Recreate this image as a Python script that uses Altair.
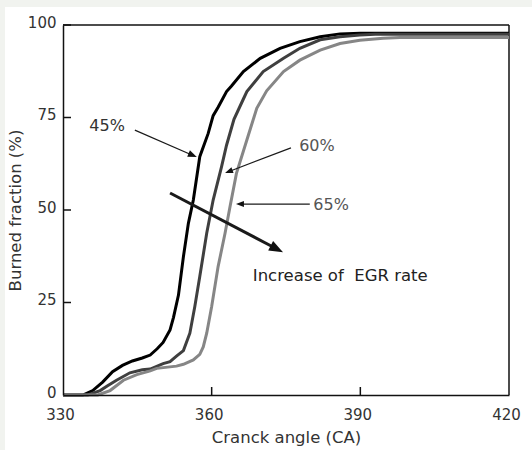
import math
import altair as alt
import pandas as pd

# ---- curves (crank angle, burned fraction %) ----
x45 = [330, 334, 336, 338, 340, 342, 344, 346, 347.6, 349, 350.2, 351.6, 352.3, 353.3, 354.3,
       355.3, 356.3, 357.6, 359.3, 360.3, 361.3, 363, 364, 366.4, 369.8, 373.8, 377.8, 381.9,
       385.9, 390, 420]
y45 = [0, 0, 1.2, 3.5, 6.3, 8, 9.2, 10, 10.8, 12.5, 14.2, 17.6, 21, 27, 37.4,
       46.4, 52.7, 64.4, 70.7, 75.5, 77.8, 82, 83.5, 87.4, 91, 93.7, 95.5, 96.8,
       97.6, 97.8, 97.8]

x60 = [330, 335, 337.5, 339, 340.8, 343.5, 346, 347.6, 350.2, 351.6, 352.9, 354.3, 355.6,
       356.6, 357.6, 359, 360.3, 362, 363, 364.5, 366.4, 367.1, 370.4, 374.5, 377.8, 381.9,
       385.9, 389.9, 393, 420]
y60 = [0, 0, 1.2, 2.5, 4, 6, 6.8, 7, 8.5, 9, 10.5, 12, 16.7,
       23.9, 32, 43.7, 52.7, 61.7, 67.5, 74.5, 80, 82, 87.4, 91, 93.7, 96,
       96.8, 97.3, 97.5, 97.5]

x65 = [330, 337, 339.5, 342.2, 344.9, 347.6, 348.9, 352.9, 354.3, 356.3, 357.6, 358.3, 359,
       360, 361.3, 362.7, 363.7, 365, 367.1, 369.1, 371.1, 374.5, 377.8, 381.9, 385.9, 389.9,
       394.6, 398, 420]
y65 = [0, 0, 1.2, 4, 5.5, 6.5, 7.2, 7.8, 8.3, 9.5, 11, 13, 16.7,
       23.9, 34.7, 43.7, 50.9, 59.9, 68.9, 77.5, 82.2, 87.4, 90.5, 93.2, 95.0, 95.9,
       96.4, 96.6, 96.6]

series_names = ["45%", "60%", "65%"]
series_colors = ["#000000", "#3f3f3f", "#868686"]

# ---- axis ticks ----
x_ticks = [330, 360, 390, 420]
y_ticks = [0, 25, 50, 75, 100]

# ---- annotations ----
arrow_x0 = [344.5, 376.0, 379.8, 351.6]
arrow_y0 = [71.6, 66.8, 51.6, 54.6]
arrow_x1 = [357.0, 362.7, 364.9, 374.4]
arrow_y1 = [64.3, 60.0, 51.6, 38.6]
arrow_head_len = [9, 8, 8, 14]
arrow_width = [1.2, 1.2, 1.2, 3.0]

label_text = ["45%", "60%", "65%"]
label_x = [338.9, 381.25, 384.1]
label_y = [72.7, 67.3, 51.4]
label_colors = ["#333333", "#555555", "#555555"]

egr_text = "Increase of \u00a0EGR rate"
egr_x = 368.3
egr_y = 32.2

W, H = 446, 370
XD = [330, 420]
YD = [0, 100]
kx = W / (XD[1] - XD[0])
ky = H / (YD[1] - YD[0])

rows = []
for name, xs, ys in zip(series_names, [x45, x60, x65], [y45, y60, y65]):
    for i, (a, b) in enumerate(zip(xs, ys)):
        rows.append({"series": name, "x": a, "y": b, "o": i})
curves = pd.DataFrame(rows)

arr_rows, head_rows = [], []
for i in range(len(arrow_x0)):
    dxp = (arrow_x1[i] - arrow_x0[i]) * kx
    dyp = -(arrow_y1[i] - arrow_y0[i]) * ky
    L = math.hypot(dxp, dyp)
    ux, uy = dxp / L, dyp / L
    hl = arrow_head_len[i]
    ex = arrow_x1[i] - (ux * hl * 0.8) / kx
    ey = arrow_y1[i] + (uy * hl * 0.8) / ky
    arr_rows.append({"id": i, "x": arrow_x0[i], "y": arrow_y0[i], "o": 0, "w": arrow_width[i]})
    arr_rows.append({"id": i, "x": ex, "y": ey, "o": 1, "w": arrow_width[i]})
    ang = math.degrees(math.atan2(dxp, -dyp)) % 360
    head_rows.append({"id": i, "x": arrow_x1[i], "y": arrow_y1[i], "angle": ang,
                      "size": 4 * hl * hl})
arrows = pd.DataFrame(arr_rows)
heads = pd.DataFrame(head_rows)

labels = pd.DataFrame({"t": label_text, "x": label_x, "y": label_y, "c": label_colors})
egr = pd.DataFrame({"t": [egr_text], "x": [egr_x], "y": [egr_y]})

xs = alt.Scale(domain=XD, nice=False, zero=False)
ys = alt.Scale(domain=YD, nice=False, zero=False)

FONT = "DejaVu Sans"

x_axis = alt.Axis(title="Cranck angle (CA)", values=x_ticks, ticks=False, grid=False,
                  labelFlush=False, labelPadding=12, labelOffset=-3, labelFontSize=15,
                  titleFontSize=16.5, titlePadding=7, titleFontWeight="normal",
                  labelColor="#333333", titleColor="#333333", labelFont=FONT, titleFont=FONT,
                  domainColor="#111111", domainWidth=1.5, zindex=2)
y_axis = alt.Axis(title="Burned fraction (%)", values=y_ticks, ticks=False, grid=False,
                  labelFlush=False, labelPadding=7, labelOffset=-3, labelFontSize=15,
                  titleFontSize=16.5, titlePadding=4, titleFontWeight="normal",
                  labelColor="#333333", titleColor="#333333", labelFont=FONT, titleFont=FONT,
                  domainColor="#111111", domainWidth=1.5, zindex=2)

bg = alt.Chart(pd.DataFrame({"a": [0]})).mark_rect(color="white", clip=False).encode(
    x=alt.value(-58), x2=alt.value(W + 23), y=alt.value(-18), y2=alt.value(H + 55)
)

frame_top = alt.Chart(pd.DataFrame({"a": [0]})).mark_rule(color="#111111", strokeWidth=1.5).encode(
    x=alt.value(0), x2=alt.value(W), y=alt.value(0)
)
frame_right = alt.Chart(pd.DataFrame({"a": [0]})).mark_rule(color="#111111", strokeWidth=1.5).encode(
    x=alt.value(W), y=alt.value(0), y2=alt.value(H)
)

lines = alt.Chart(curves).mark_line(strokeWidth=3, strokeJoin="miter").encode(
    x=alt.X("x:Q", scale=xs, axis=x_axis),
    y=alt.Y("y:Q", scale=ys, axis=y_axis),
    color=alt.Color("series:N", scale=alt.Scale(domain=series_names, range=series_colors), legend=None),
    order="o:Q",
    detail="series:N",
)

arrow_lines = alt.Chart(arrows).mark_line(color="#1a1a1a").encode(
    x=alt.X("x:Q", scale=xs), y=alt.Y("y:Q", scale=ys),
    detail="id:N", order="o:Q",
    strokeWidth=alt.StrokeWidth("w:Q", scale=None),
)

arrow_heads = alt.Chart(heads).mark_point(
    shape="M0,0L0.38,1L-0.38,1Z", filled=True, opacity=1, color="#111111", strokeWidth=0
).encode(
    x=alt.X("x:Q", scale=xs), y=alt.Y("y:Q", scale=ys),
    angle=alt.Angle("angle:Q", scale=None),
    size=alt.Size("size:Q", scale=None),
)

lab = alt.Chart(labels).mark_text(fontSize=16, font=FONT, align="center", baseline="middle").encode(
    x=alt.X("x:Q", scale=xs), y=alt.Y("y:Q", scale=ys), text="t:N",
    color=alt.Color("c:N", scale=None),
)

egr_lab = alt.Chart(egr).mark_text(fontSize=16.5, font=FONT, align="left", baseline="middle",
                                   color="#222222").encode(
    x=alt.X("x:Q", scale=xs), y=alt.Y("y:Q", scale=ys), text="t:N",
)

xt = alt.Chart(pd.DataFrame({"v": x_ticks[1:-1]})).mark_rule(color="#111111", strokeWidth=1.5).encode(
    x=alt.X("v:Q", scale=xs), y=alt.value(H), y2=alt.value(H - 8)
)
yt = alt.Chart(pd.DataFrame({"v": y_ticks[1:]})).mark_rule(color="#111111", strokeWidth=1.5).encode(
    y=alt.Y("v:Q", scale=ys), x=alt.value(0), x2=alt.value(8)
)

chart = alt.layer(bg, frame_top, frame_right, lines, arrow_lines, arrow_heads, lab, egr_lab,
                  xt, yt).properties(
    width=W, height=H,
    padding={"left": 63, "top": 25, "right": 23, "bottom": 55},
    autosize="none",
    background="#f1f3ef",
).configure_view(stroke=None)

chart.save("out.html", embed_options={"renderer": "svg", "actions": False})
